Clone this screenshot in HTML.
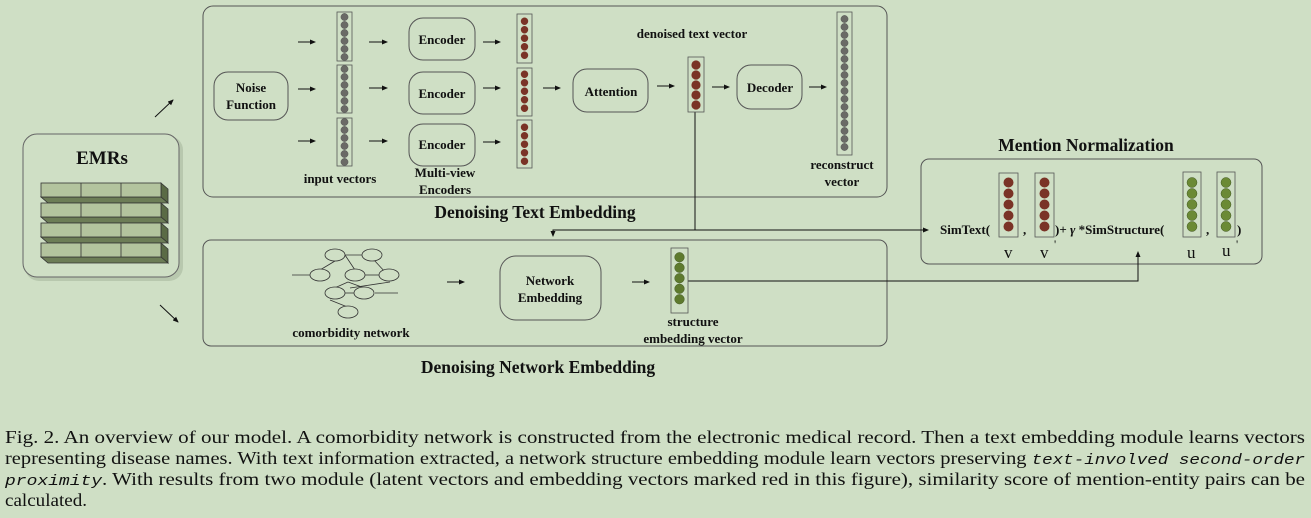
<!DOCTYPE html>
<html><head><meta charset="utf-8"><style>
body{margin:0;background:#cfdfc5;}
svg{display:block;}
.b{font-family:"Liberation Serif",serif;font-weight:bold;fill:#111;}
.c{font-family:"Liberation Serif",serif;fill:#111;font-size:17.5px;}
</style></head><body>
<svg width="1311" height="518" viewBox="0 0 1311 518" xmlns="http://www.w3.org/2000/svg">
<defs>
<pattern id="pg" patternUnits="userSpaceOnUse" width="15" height="8"><circle cx="7.5" cy="4" r="3.6" fill="#6a6a66" stroke="#555" stroke-width="0.5"/></pattern>
<pattern id="pr" patternUnits="userSpaceOnUse" width="15" height="8.5"><circle cx="7.5" cy="4.25" r="3.7" fill="#7a3326"/></pattern>
<pattern id="prL" patternUnits="userSpaceOnUse" width="16" height="10"><circle cx="8" cy="5" r="4.6" fill="#7a3326"/></pattern>
<pattern id="pgr" patternUnits="userSpaceOnUse" width="17" height="10.5"><circle cx="8.5" cy="5.25" r="4.8" fill="#5e7a2e" stroke="#3f5520" stroke-width="0.5"/></pattern>
<pattern id="pr2" patternUnits="userSpaceOnUse" width="19" height="11"><circle cx="9.5" cy="5.5" r="5" fill="#7a3326"/></pattern>
<pattern id="pgr2" patternUnits="userSpaceOnUse" width="18" height="11"><circle cx="9" cy="5.5" r="5" fill="#6b8a35" stroke="#3f5520" stroke-width="0.5"/></pattern>
<marker id="ah" markerWidth="6" markerHeight="6" refX="5" refY="3" orient="auto" markerUnits="userSpaceOnUse"><path d="M0,0.5 L6,3 L0,5.5 z" fill="#111"/></marker>
</defs>
<g fill="none" stroke="#555" stroke-width="1">
<rect x="203" y="6" width="684" height="191" rx="10"/>
<rect x="203" y="240" width="684" height="106" rx="8"/>
<rect x="921" y="159" width="341" height="105" rx="8"/>
<rect x="214" y="72" width="74" height="48" rx="14"/>
<rect x="409" y="18" width="66" height="42" rx="14"/>
<rect x="409" y="72" width="66" height="42" rx="14"/>
<rect x="409" y="124" width="66" height="42" rx="14"/>
<rect x="573" y="69" width="75" height="43" rx="14"/>
<rect x="737" y="65" width="65" height="44" rx="14"/>
<rect x="500" y="256" width="101" height="64" rx="16"/>
</g>
<rect x="25" y="136" width="158" height="145" rx="14" fill="#b8c8ae" />
<rect x="23" y="134" width="156" height="143" rx="14" fill="#cfdfc5" stroke="#666" stroke-width="1"/>
<text class="b" x="102" y="164" font-size="19" text-anchor="middle">EMRs</text>
<g stroke="#333" stroke-width="0.8">
<g id="brick">
<polygon points="161,183 168,189 168,203 161,197" fill="#5a6b45"/>
<polygon points="41,197 161,197 168,203 48,203" fill="#6c7d56"/>
<rect x="41" y="183" width="120" height="14" fill="#b3c49e"/>
<line x1="81" y1="183" x2="81" y2="197"/><line x1="121" y1="183" x2="121" y2="197"/>
</g>
<use href="#brick" y="20"/><use href="#brick" y="40"/><use href="#brick" y="60"/>
</g>
<g stroke="#111" stroke-width="1" marker-end="url(#ah)">
<line x1="155" y1="117" x2="173" y2="100"/>
<line x1="160" y1="305" x2="178" y2="322"/>
<line x1="298" y1="42" x2="315" y2="42"/><line x1="298" y1="89" x2="315" y2="89"/><line x1="298" y1="141" x2="315" y2="141"/>
<line x1="369" y1="42" x2="387" y2="42"/><line x1="369" y1="88" x2="387" y2="88"/><line x1="369" y1="141" x2="387" y2="141"/>
<line x1="483" y1="42" x2="500" y2="42"/><line x1="483" y1="88" x2="500" y2="88"/><line x1="483" y1="142" x2="500" y2="142"/>
<line x1="543" y1="88" x2="560" y2="88"/>
<line x1="657" y1="86" x2="674" y2="86"/>
<line x1="712" y1="87" x2="729" y2="87"/>
<line x1="809" y1="87" x2="826" y2="87"/>
<line x1="447" y1="282" x2="464" y2="282"/>
<line x1="632" y1="282" x2="649" y2="282"/>
</g>
<g stroke="#111" stroke-width="1" fill="none">
<polyline points="695,112 695,230 553,230 553,236" marker-end="url(#ah)"/>
<polyline points="695,230 928,230" marker-end="url(#ah)"/>
<polyline points="688,281 1138,281 1138,252" marker-end="url(#ah)"/>
</g>
<!-- vectors: outer frame + inner translated pattern rect at y=0 -->
<g stroke="#555" stroke-width="0.8" fill="none">
<rect x="337" y="12" width="15" height="49"/><rect x="337" y="65" width="15" height="48"/><rect x="337" y="118" width="15" height="48"/>
<rect x="517" y="14" width="15" height="49"/><rect x="517" y="68" width="15" height="48"/><rect x="517" y="120" width="15" height="48"/>
<rect x="688" y="57" width="16" height="55"/>
<rect x="837" y="12" width="15" height="143"/>
<rect x="671" y="248" width="17" height="65"/>
<rect x="999" y="173" width="19" height="64"/><rect x="1035" y="173" width="19" height="64"/>
<rect x="1183" y="172" width="18" height="65"/><rect x="1217" y="172" width="18" height="65"/>
</g>
<g stroke="none">
<g transform="translate(337,13)"><rect width="15" height="48" fill="url(#pg)"/></g>
<g transform="translate(337,65)"><rect width="15" height="48" fill="url(#pg)"/></g>
<g transform="translate(337,118)"><rect width="15" height="48" fill="url(#pg)"/></g>
<g transform="translate(517,17)"><rect width="15" height="42.5" fill="url(#pr)"/></g>
<g transform="translate(517,70)"><rect width="15" height="42.5" fill="url(#pr)"/></g>
<g transform="translate(517,123)"><rect width="15" height="42.5" fill="url(#pr)"/></g>
<g transform="translate(688,60)"><rect width="16" height="50" fill="url(#prL)"/></g>
<g transform="translate(837,15)"><rect width="15" height="136" fill="url(#pg)"/></g>
<g transform="translate(671,252)"><rect width="17" height="52.5" fill="url(#pgr)"/></g>
<g transform="translate(999,177)"><rect width="19" height="55" fill="url(#pr2)"/></g>
<g transform="translate(1035,177)"><rect width="19" height="55" fill="url(#pr2)"/></g>
<g transform="translate(1183,177)"><rect width="18" height="55" fill="url(#pgr2)"/></g>
<g transform="translate(1217,177)"><rect width="18" height="55" fill="url(#pgr2)"/></g>
</g>
<g stroke="#333" stroke-width="0.8" fill="#cfdfc5">
<line x1="345" y1="255" x2="362" y2="255"/><line x1="320" y1="270" x2="345" y2="255"/><line x1="345" y1="255" x2="357" y2="273"/><line x1="374" y1="260" x2="386" y2="273"/>
<line x1="292" y1="275" x2="310" y2="275"/><line x1="365" y1="275" x2="379" y2="275"/>
<line x1="330" y1="290" x2="348" y2="282"/><line x1="348" y1="282" x2="370" y2="290"/><line x1="350" y1="288" x2="390" y2="282"/>
<line x1="345" y1="293" x2="360" y2="293"/><line x1="375" y1="293" x2="398" y2="293"/><line x1="330" y1="300" x2="355" y2="310"/>
<ellipse cx="335" cy="255" rx="10" ry="6"/><ellipse cx="372" cy="255" rx="10" ry="6"/>
<ellipse cx="320" cy="275" rx="10" ry="6"/><ellipse cx="355" cy="275" rx="10" ry="6"/><ellipse cx="389" cy="275" rx="10" ry="6"/>
<ellipse cx="335" cy="293" rx="10" ry="6"/><ellipse cx="364" cy="293" rx="10" ry="6"/>
<ellipse cx="348" cy="312" rx="10" ry="6"/>
</g>
<g class="b" font-size="13" text-anchor="middle">
<text x="251" y="92">Noise</text><text x="251" y="109">Function</text>
<text x="442" y="44">Encoder</text><text x="442" y="98">Encoder</text><text x="442" y="149">Encoder</text>
<text x="340" y="183">input vectors</text>
<text x="445" y="177">Multi-view</text><text x="445" y="194">Encoders</text>
<text x="611" y="96">Attention</text>
<text x="692" y="38">denoised text vector</text>
<text x="770" y="92">Decoder</text>
<text x="842" y="169">reconstruct</text><text x="842" y="186">vector</text>
<text x="351" y="337">comorbidity network</text>
<text x="550" y="285">Network</text><text x="550" y="302">Embedding</text>
<text x="693" y="326">structure</text><text x="693" y="343">embedding vector</text>
</g>
<g class="b" font-size="17.5" text-anchor="middle">
<text x="535" y="218">Denoising Text Embedding</text>
<text x="538" y="373">Denoising Network Embedding</text>
<text x="1086" y="151">Mention Normalization</text>
</g>
<g class="b" font-size="13">
<text x="940" y="234">SimText(</text>
<text x="1023" y="234">,</text>
<text x="1055" y="234">)+ <tspan font-style="italic">γ</tspan> *SimStructure(</text>
<text x="1206" y="234">,</text>
<text x="1237" y="234">)</text>
</g>
<g font-family="Liberation Serif,serif" font-size="17" fill="#111">
<text x="1004" y="258">v</text><text x="1040" y="258">v</text><text x="1054" y="248" font-size="12">'</text>
<text x="1187" y="258">u</text><text x="1222" y="256">u</text><text x="1236" y="248" font-size="12">'</text>
</g>
<text class="c" x="5" y="443" textLength="1300" lengthAdjust="spacingAndGlyphs">Fig. 2.  An overview of our model. A comorbidity network is constructed from the electronic medical record. Then a text embedding module learns vectors</text>
<text class="c" x="5" y="464" textLength="1300" lengthAdjust="spacingAndGlyphs">representing disease names. With text information extracted, a network structure embedding module learn vectors preserving <tspan font-style="italic" font-family="Liberation Mono,monospace" font-size="15">text-involved second-order</tspan></text>
<text class="c" x="5" y="485" textLength="1300" lengthAdjust="spacingAndGlyphs"><tspan font-style="italic" font-family="Liberation Mono,monospace" font-size="15">proximity</tspan>. With results from two module (latent vectors and embedding vectors marked red in this figure), similarity score of mention-entity pairs can be</text>
<text class="c" x="5" y="506" textLength="82" lengthAdjust="spacingAndGlyphs">calculated.</text>
</svg>
</body></html>
